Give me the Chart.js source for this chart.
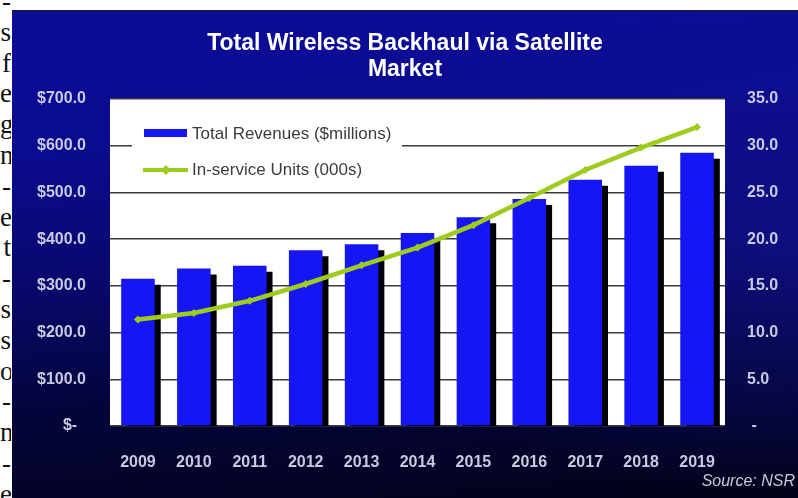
<!DOCTYPE html>
<html lang="en">
<head>
  <meta charset="UTF-8" />
  <title>Total Wireless Backhaul via Satellite Market</title>
  <script src="https://cdn.jsdelivr.net/npm/chart.js"></script>
  <style>
    body {
      margin: 0;
      width: 798px;
      height: 498px;
      background: #fff;
      overflow: hidden;
      position: relative;
      font-family: 'Liberation Sans', Arial, sans-serif;
    }

    /* bits of the scanned page text on the left edge */
    .page-edge {
      position: absolute;
      left: 0;
      top: -14px;
      width: 11px;
      overflow: hidden;
      text-align: right;
      font-family: 'Liberation Serif', serif;
      font-size: 27px;
      line-height: 30.8px;
      color: #111;
      white-space: pre;
    }

    .panel {
      position: absolute;
      left: 12px;
      top: 10px;
      width: 786px;
      height: 488px;
      background:
        radial-gradient(ellipse 60% 55% at 100% 45%, rgba(20, 20, 150, 0.55), rgba(20, 20, 150, 0) 100%),
        linear-gradient(175deg, #0c0c98 0%, #0b0b90 25%, #08086c 50%, #04043c 72%, #020218 100%);
      border-top: 2px solid #15155a;
      box-sizing: border-box;
    }

    .title {
      position: absolute;
      left: 0;
      right: 0;
      top: 17px;
      text-align: center;
      color: #fff;
      font-weight: bold;
      font-size: 23px;
      line-height: 26px;
    }

    .source {
      position: absolute;
      right: 3px;
      top: 460px;
      color: #c8c8dc;
      font-style: italic;
      font-size: 16px;
    }

    .chart-wrapper {
      position: absolute;
      left: 0;
      top: 0;
      width: 786px;
      height: 488px;
    }
  </style>
</head>
<body>

  <div class="page-edge">-
s
f
e
g
n
-
e
t
-
s
s
o
-
n
-
e</div>

  <div class="panel">
    <div class="chart-wrapper">
      <canvas id="backhaulChart"></canvas>
    </div>
    <div class="title">Total Wireless Backhaul via Satellite<br>Market</div>
    <div class="source">Source: NSR</div>
  </div>

  <script>
    // datos
    const years = ['2009', '2010', '2011', '2012', '2013', '2014', '2015', '2016', '2017', '2018', '2019'];
    const revenues = [315, 337, 343, 376, 389, 413, 447, 486, 527, 557, 585];
    const units = [11.4, 12.1, 13.4, 15.2, 17.2, 19.1, 21.5, 24.4, 27.4, 29.8, 32.0];
    const revenueLabel = 'Total Revenues ($millions)';
    const unitsLabel = 'In-service Units (000s)';

    const barBlue = '#1616f4';
    const lineGreen = '#9dcc1e';
    const tickColor = '#c9c9e2';
    const tickFont = { family: "'Liberation Sans', Arial, sans-serif", size: 16, weight: 'bold' };

    // fondo blanco del area de trazado
    const plotBackground = {
      id: 'plotBackground',
      beforeDraw(chart) {
        const { ctx, chartArea } = chart;
        ctx.save();
        ctx.fillStyle = '#fff';
        ctx.fillRect(chartArea.left, chartArea.top, chartArea.right - chartArea.left, chartArea.bottom - chartArea.top);
        ctx.restore();
      }
    };

    // sombra negra de las barras
    const barShadow = {
      id: 'barShadow',
      beforeDatasetDraw(chart, args) {
        if (chart.data.datasets[args.index].type !== 'bar') return;
        const ctx = chart.ctx;
        ctx.save();
        ctx.shadowColor = '#000';
        ctx.shadowOffsetX = 6;
        ctx.shadowOffsetY = 6;
        ctx.shadowBlur = 0;
      },
      afterDatasetDraw(chart, args) {
        if (chart.data.datasets[args.index].type !== 'bar') return;
        chart.ctx.restore();
      }
    };

    // leyenda dentro del area de trazado
    const insideLegend = {
      id: 'insideLegend',
      afterDatasetsDraw(chart) {
        const { ctx, chartArea } = chart;
        const x = chartArea.left + 22;
        const y = chartArea.top + 8;
        ctx.save();
        ctx.fillStyle = '#fff';
        ctx.fillRect(x, y, 270, 80);

        ctx.fillStyle = barBlue;
        ctx.fillRect(x + 12, y + 22, 43, 8);

        ctx.strokeStyle = lineGreen;
        ctx.lineWidth = 4;
        ctx.beginPath();
        ctx.moveTo(x + 11, y + 63);
        ctx.lineTo(x + 56, y + 63);
        ctx.stroke();
        ctx.fillStyle = lineGreen;
        ctx.beginPath();
        ctx.moveTo(x + 34, y + 58);
        ctx.lineTo(x + 39, y + 63);
        ctx.lineTo(x + 34, y + 68);
        ctx.lineTo(x + 29, y + 63);
        ctx.closePath();
        ctx.fill();

        ctx.fillStyle = '#3c3c3c';
        ctx.font = '17px "Liberation Sans", Arial, sans-serif';
        ctx.textBaseline = 'middle';
        ctx.textAlign = 'left';
        ctx.fillText(revenueLabel, x + 60, y + 27);
        ctx.fillText(unitsLabel, x + 60, y + 63);
        ctx.restore();
      }
    };

    const ctx = document.getElementById('backhaulChart').getContext('2d');

    new Chart(ctx, {
      data: {
        labels: years,
        datasets: [
          {
            type: 'bar',
            label: revenueLabel,
            data: revenues,
            backgroundColor: barBlue,
            yAxisID: 'y',
            categoryPercentage: 1,
            barPercentage: 0.6,
            order: 1
          },
          {
            type: 'line',
            label: unitsLabel,
            data: units,
            borderColor: lineGreen,
            backgroundColor: lineGreen,
            borderWidth: 4.5,
            pointStyle: 'rectRot',
            pointRadius: 4,
            pointBackgroundColor: lineGreen,
            pointBorderWidth: 0,
            tension: 0,
            yAxisID: 'y1',
            order: 0
          }
        ]
      },
      options: {
        responsive: true,
        maintainAspectRatio: false,
        animation: false,
        layout: {
          padding: { top: 87, left: 0, right: 0, bottom: 0 }
        },
        scales: {
          x: {
            grid: { display: false },
            border: { display: false },
            ticks: {
              color: tickColor,
              padding: 19,
              font: tickFont
            },
            afterFit: (scale) => { scale.height = 74; }
          },
          y: {
            position: 'left',
            min: 0,
            max: 700,
            grid: { color: '#3d3d3d', lineWidth: 1.5, drawTicks: false },
            border: { display: false },
            ticks: {
              stepSize: 100,
              color: tickColor,
              padding: 24,
              font: tickFont,
              callback: (v) => v === 0 ? '$-  ' : '$' + v.toFixed(1)
            },
            afterFit: (scale) => { scale.width = 98; }
          },
          y1: {
            position: 'right',
            min: 0,
            max: 35,
            grid: { display: false, drawTicks: false },
            border: { display: false },
            ticks: {
              stepSize: 5,
              color: tickColor,
              padding: 22,
              font: tickFont,
              callback: (v) => v === 0 ? ' -' : v.toFixed(1)
            },
            afterFit: (scale) => { scale.width = 73; }
          }
        },
        plugins: {
          legend: { display: false },
          tooltip: { enabled: false }
        }
      },
      plugins: [plotBackground, barShadow, insideLegend]
    });
  </script>
</body>
</html>
